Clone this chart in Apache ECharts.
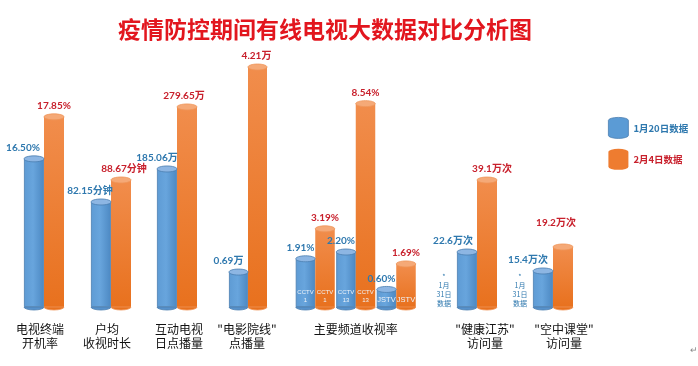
<!DOCTYPE html>
<html>
<head>
<meta charset="utf-8">
<script src="https://cdn.jsdelivr.net/npm/echarts@6/dist/echarts.min.js"></script>
<style>
html,body{margin:0;padding:0;background:#fff;}
#chart{width:698px;height:366px;}
</style>
</head>
<body>
<div id="chart"></div>
<script>
// ---- data ----
const categories = ['电视终端\n开机率', '户均\n收视时长', '互动电视\n日点播量', '"电影院线"\n点播量', '主要频道收视率', '"健康江苏"\n访问量', '"空中课堂"\n访问量'];
const seriesNames = ['1月20日数据', '2月4日数据'];
const jan20Values = [16.50, 82.15, 185.06, 0.69, null, 22.6, 15.4];
const feb4Values = [17.85, 88.67, 279.65, 4.21, null, 39.1, 19.2];
const channels = ['CCTV\n1', 'CCTV\n13', 'JSTV'];
const jan20Channels = [1.91, 2.20, 0.60];
const feb4Channels = [3.19, 8.54, 1.69];
const units = ['%', '分钟', '万', '万', '%', '万次', '万次'];
const decimals = [2, 2, 2, 2, 2, 1, 1];
const noteText = '*\n1月\n31日\n数据';
const noteGroups = [5, 6];
const titleText = '疫情防控期间有线电视大数据对比分析图';

// ---- layout / style ----
const CHANNEL_GROUP = 4;
const GRID_TOP = 40, GRID_H = 267;
const LAYOUT = [
  {left: 14,  width: 60,    min: 11.74, max: 20.32,  bw: 20,   bDx: -11, oDx: 0,  lDx: -4},
  {left: 81,  width: 60,    min: 51.03, max: 130.16, bw: 20,   bDx: -11, oDx: 3,  lDx: -4},
  {left: 147, width: 60,    min: -25.5, max: 381.8,  bw: 20,   bDx: -10, oDx: -3, lDx: 2},
  {left: 218, width: 60,    min: 0.09,  max: 4.674,  bw: 19,   bDx: -10, oDx: -1, lDx: -1},
  {left: 295, width: 121.5, min: -0.15, max: 11.26,  bw: 19.5, bDx: -5,  oDx: 0,  lDx: 0},
  {left: 447, width: 60,    min: 10,    max: 71.2,   bw: 20,   bDx: -14, oDx: 5,  lDx: 8},
  {left: 523, width: 60,    min: 9.7,   max: 51.97,  bw: 20,   bDx: -15, oDx: -7, lDx: 11, oDist: 19}
];
const BLUE_TXT = '#2E78AE', RED_TXT = '#C8202C';
const NUM_FONT = 'Lato, "Noto Sans CJK SC", sans-serif';
const CJK_FONT = '"Noto Sans CJK SC", sans-serif';
const G = echarts.graphic;
const BLUE = {
  body: new G.LinearGradient(0, 0, 1, 0, [{offset: 0, color: '#5E9BD4'}, {offset: 0.45, color: '#68A5DD'}, {offset: 1, color: '#4C88C2'}]),
  bottom: '#5792CC', top: '#8DB6E3', edge: '#4A7DB0', edgeW: 0.8
};
const ORANGE = {
  body: new G.LinearGradient(0, 0, 0, 1, [{offset: 0, color: '#F18D4C'}, {offset: 1, color: '#E8711E'}]),
  bottom: '#E8711E', top: '#F5A977', edge: '#EF9458', edgeW: 0.8
};

const grids = [], xAxes = [], yAxes = [], series = [];
LAYOUT.forEach((L, g) => {
  grids.push({left: L.left, width: L.width, top: GRID_TOP, height: GRID_H, containLabel: false});
  const pad = L.lDx >= 0 ? [0, 0, 0, 2 * L.lDx] : [0, -2 * L.lDx, 0, 0];
  xAxes.push({
    type: 'category', gridIndex: g, data: [categories[g]],
    axisLine: {show: false}, axisTick: {show: false}, splitLine: {show: false},
    axisLabel: {margin: 15, fontSize: 12, lineHeight: 14, color: '#111', fontFamily: CJK_FONT, padding: pad}
  });
  yAxes.push({type: 'value', gridIndex: g, min: L.min, max: L.max, startValue: L.min, show: false});
});
// extra x axis for channels inside the channel group
const CH_AXIS = xAxes.length;
xAxes.push({type: 'category', gridIndex: CHANNEL_GROUP, data: channels, show: false});

function barSeries(g, side, xIdx, data) {
  const L = LAYOUT[g];
  return {
    type: 'bar', name: seriesNames[side], xAxisIndex: xIdx, yAxisIndex: g,
    barWidth: L.bw, barGap: '0%', data: data, z: 2, silent: true,
    itemStyle: side === 0 ? {color: BLUE.body, borderColor: BLUE.edge, borderWidth: 0.8} : {color: ORANGE.body, borderWidth: 0},
    label: {
      show: true, position: 'top',
      distance: (side === 1 && L.oDist) ? L.oDist : 6,
      offset: [side === 0 ? L.bDx : L.oDx, 0],
      color: side === 0 ? BLUE_TXT : RED_TXT, fontSize: 10, fontWeight: 'bold', fontFamily: NUM_FONT,
      formatter: p => Number(p.value).toFixed(decimals[g]) + units[g]
    }
  };
}

function makeRender(g) {
  const L = LAYOUT[g];
  return function (params, api) {
    const cat = api.value(0), val = api.value(1), side = api.value(2);
    const pt = api.coord([cat, val]);
    const baseY = api.coord([cat, L.min])[1];
    const cx = pt[0] + (side === 0 ? -L.bw / 2 : L.bw / 2);
    const rx = L.bw / 2, ry = 3;
    const P = side === 0 ? BLUE : ORANGE;
    const children = [
      {type: 'path', shape: {pathData: 'M' + (cx - rx) + ' ' + baseY + ' A' + rx + ' ' + ry + ' 0 0 0 ' + (cx + rx) + ' ' + baseY + ' Z'},
       style: {fill: P.bottom, stroke: P.edge, lineWidth: P.edgeW}},
      {type: 'ellipse', shape: {cx: cx, cy: pt[1], rx: rx, ry: ry},
       style: {fill: P.top, stroke: P.edge, lineWidth: P.edgeW}}
    ];
    if (g === CHANNEL_GROUP) {
      children.push({type: 'text', style: {text: channels[cat], x: cx, y: baseY - 3, align: 'center', verticalAlign: 'bottom',
        fill: '#EEF3F9', fontSize: cat === 2 ? 7.5 : 6, lineHeight: 8, fontFamily: 'Liberation Sans, sans-serif'}});
    }
    if (noteGroups.indexOf(g) >= 0 && side === 0) {
      children.push({type: 'text', style: {text: noteText, x: cx - rx - 13, y: baseY + 1, align: 'center', verticalAlign: 'bottom',
        fill: BLUE_TXT, fontSize: 7, lineHeight: 9, fontFamily: CJK_FONT}});
    }
    return {type: 'group', children: children};
  };
}

LAYOUT.forEach((L, g) => {
  let xIdx, bData, oData, items = [];
  if (g === CHANNEL_GROUP) {
    xIdx = CH_AXIS; bData = jan20Channels; oData = feb4Channels;
  } else {
    xIdx = g; bData = [jan20Values[g]]; oData = [feb4Values[g]];
  }
  bData.forEach((v, i) => items.push([i, v, 0]));
  oData.forEach((v, i) => items.push([i, v, 1]));
  series.push(barSeries(g, 0, xIdx, bData));
  series.push(barSeries(g, 1, xIdx, oData));
  series.push({type: 'custom', xAxisIndex: xIdx, yAxisIndex: g, data: items, renderItem: makeRender(g), z: 3, silent: true, clip: false});
});

const cylIcon = 'path://M0,3 A10,3 0 0 1 20,3 L20,18 A10,3 0 0 1 0,18 Z';
const option = {
  animation: false,
  backgroundColor: '#fff',
  title: {text: titleText, left: 113, top: 13,
    textStyle: {color: '#E2161E', fontSize: 23, fontWeight: 'bold', fontFamily: CJK_FONT}},
  legend: {
    orient: 'vertical', left: 603, top: 112, itemWidth: 20, itemHeight: 21, itemGap: 10, selectedMode: false,
    data: [
      {name: seriesNames[0], icon: cylIcon, itemStyle: {color: '#5B9BD5', borderColor: '#4A7DB0', borderWidth: 0.8},
       textStyle: {color: BLUE_TXT, fontSize: 9.5, fontWeight: 'bold', fontFamily: CJK_FONT}},
      {name: seriesNames[1], icon: cylIcon, itemStyle: {color: '#EE7C30', borderWidth: 0},
       textStyle: {color: RED_TXT, fontSize: 9.5, fontWeight: 'bold', fontFamily: CJK_FONT}}
    ]
  },
  graphic: [{type: 'text', left: 690, top: 346, style: {text: '↵', fill: '#888', fontSize: 9}}],
  grid: grids, xAxis: xAxes, yAxis: yAxes, series: series
};
const chart = echarts.init(document.getElementById('chart'), null, {renderer: 'canvas'});
chart.setOption(option);
</script>
</body>
</html>
